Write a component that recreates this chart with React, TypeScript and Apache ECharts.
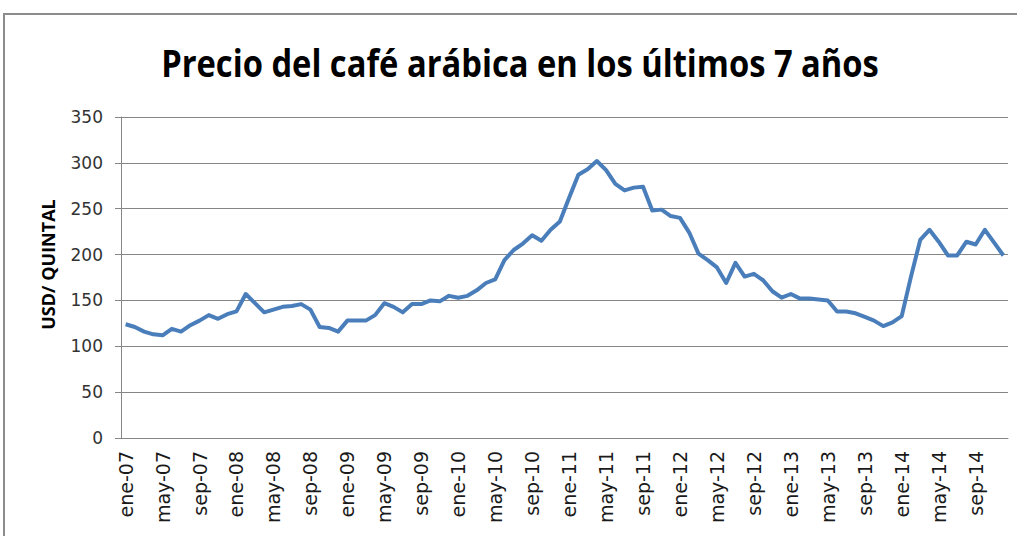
import React, { useEffect, useRef } from "react";
import * as echarts from "echarts";

const monthNames = ["ene", "feb", "mar", "abr", "may", "jun", "jul", "ago", "sep", "oct", "nov", "dic"];
const years = ["07", "08", "09", "10", "11", "12", "13", "14"];
const categories: string[] = [];
years.forEach((y) => monthNames.forEach((m) => categories.push(`${m}-${y}`)));

const precio = [
  124, 121, 116, 113, 112, 119, 116, 123, 128, 134, 130, 135,
  138, 157, 147, 137, 140, 143, 144, 146, 140, 121, 120, 116,
  128, 128, 128, 134, 147, 143, 137, 146, 146, 150, 149, 155,
  153, 155, 161, 169, 173, 194, 205, 212, 221, 215, 227, 236,
  262, 287, 293, 302, 292, 277, 270, 273, 274, 248, 249, 242,
  240, 224, 201, 194, 186, 169, 191, 176, 179, 172, 160, 153,
  157, 152, 152, 151, 150, 138, 138, 136, 132, 128, 122, 126,
  133, 176, 216, 227, 214, 199, 199, 214, 211, 227, 213, 199,
];

const titleText = "Precio del café arábica en los últimos 7 años";
const yAxisName = "USD/ QUINTAL";

export default function App() {
  const ref = useRef<HTMLDivElement>(null);
  useEffect(() => {
    if (!ref.current) return;
    const chart = echarts.init(ref.current, null, { renderer: "svg" });
    chart.setOption({
      animation: false,
      backgroundColor: "#ffffff",
      graphic: [
        {
          type: "rect",
          z: -1,
          silent: true,
          shape: { x: 4, y: 14, width: 1040, height: 560 },
          style: { fill: "none", stroke: "#8c8c8c", lineWidth: 2 },
        },
        {
          type: "text",
          x: 520,
          y: 63,
          scaleX: 0.884,
          silent: true,
          style: {
            text: titleText,
            align: "center",
            verticalAlign: "middle",
            fontFamily: "'Open Sans', sans-serif",
            fontWeight: "bold",
            fontSize: 37,
            fill: "#000000",
          },
        },
      ],
      grid: { left: 121, right: 9, top: 117, bottom: 98, containLabel: false },
      xAxis: {
        type: "category",
        data: categories,
        boundaryGap: true,
        axisLine: { lineStyle: { color: "#868686", width: 1 } },
        axisTick: { interval: 3, length: 6, lineStyle: { color: "#868686" } },
        axisLabel: {
          interval: 3,
          rotate: 90,
          margin: 13,
          fontSize: 19,
          fontFamily: "'DejaVu Sans', sans-serif",
          color: "#1a1a1a",
        },
        splitLine: { show: false },
      },
      yAxis: {
        type: "value",
        min: 0,
        max: 350,
        interval: 50,
        name: yAxisName,
        nameLocation: "middle",
        nameRotate: 90,
        nameGap: 64,
        nameTextStyle: {
          fontFamily: "'Open Sans', 'DejaVu Sans', sans-serif",
          fontWeight: "bold",
          fontSize: 18,
          color: "#000000",
          padding: [0, 0, 0, 26],
        },
        axisLine: { show: true, lineStyle: { color: "#868686", width: 1 } },
        axisTick: { show: true, length: 6, lineStyle: { color: "#868686" } },
        axisLabel: {
          margin: 18,
          fontSize: 17,
          fontFamily: "'DejaVu Sans', sans-serif",
          color: "#333333",
        },
        splitLine: { lineStyle: { color: "#868686", width: 1 } },
      },
      series: [
        {
          type: "line",
          data: precio,
          symbol: "none",
          lineStyle: { color: "#4a7ebb", width: 4, join: "round" },
          itemStyle: { color: "#4a7ebb" },
        },
      ],
    });
    return () => chart.dispose();
  }, []);
  return (
    <div
      ref={ref}
      style={{ position: "fixed", left: 0, top: 0, width: 1017, height: 536 }}
    />
  );
}
